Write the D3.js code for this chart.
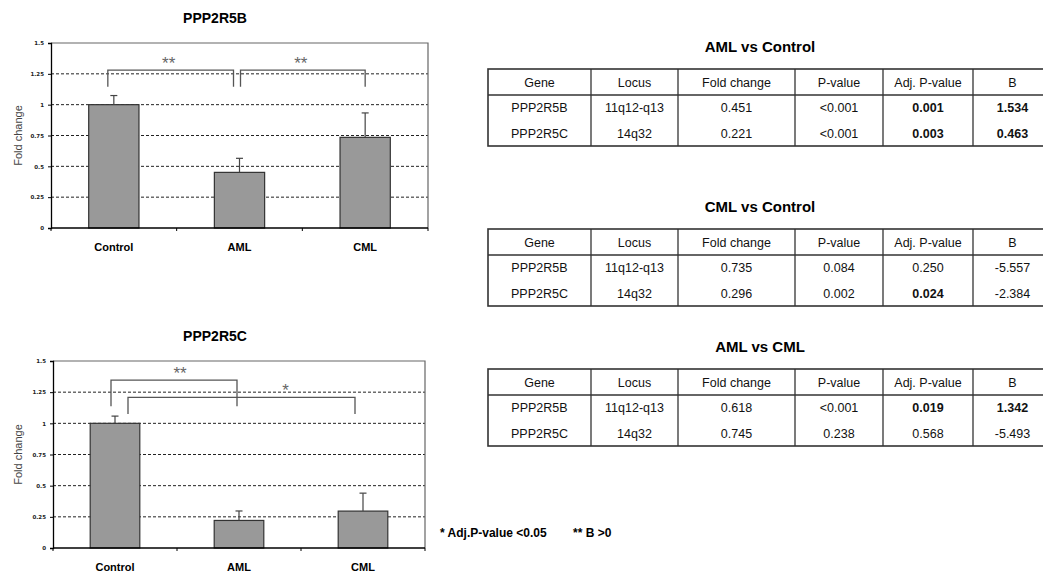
<!DOCTYPE html>
<html>
<head>
<meta charset="utf-8">
<script src="https://cdn.jsdelivr.net/npm/d3@7"></script>
<style>
  body { margin: 0; background: #fff; }
  svg { display: block; font-family: "Liberation Sans", Arial, sans-serif; }
</style>
</head>
<body>
<svg id="fig" width="1043" height="574"></svg>
<script>
// ---- data ----
var categories = ['Control', 'AML', 'CML'];
var yTicks = [0, 0.25, 0.5, 0.75, 1, 1.25, 1.5];

var ppp2r5bMeans = [1.0, 0.451, 0.735];
var ppp2r5bErrors = [0.074, 0.114, 0.198];
var ppp2r5bBrackets = [
  {from: 'Control', to: 'AML', top: 1.28, leg: 1.145, label: '**', dx0: -6, dx1: -6, labelY: 1.365, labelDx: -2},
  {from: 'AML', to: 'CML', top: 1.28, leg: 1.145, label: '**', dx0: 1, dx1: 0, labelY: 1.365, labelDx: -2}
];

var ppp2r5cMeans = [1.0, 0.221, 0.296];
var ppp2r5cErrors = [0.058, 0.076, 0.144];
var ppp2r5cBrackets = [
  {from: 'Control', to: 'AML', top: 1.347, leg: 1.138, label: '**', dx0: -4, dx1: -2, labelY: 1.426, labelDx: 6},
  {from: 'Control', to: 'CML', top: 1.208, leg: 1.074, label: '*', dx0: 13, dx1: -8, labelY: 1.293, labelDx: 44}
];

var tableColumns = ['Gene', 'Locus', 'Fold change', 'P-value', 'Adj. P-value', 'B'];
var genes = ['PPP2R5B', 'PPP2R5C'];
var loci = ['11q12-q13', '14q32'];

var amlControlFold = ['0.451', '0.221'];
var amlControlP = ['<0.001', '<0.001'];
var amlControlAdjP = ['0.001', '0.003'];
var amlControlB = ['1.534', '0.463'];

var cmlControlFold = ['0.735', '0.296'];
var cmlControlP = ['0.084', '0.002'];
var cmlControlAdjP = ['0.250', '0.024'];
var cmlControlB = ['-5.557', '-2.384'];

var amlCmlFold = ['0.618', '0.745'];
var amlCmlP = ['<0.001', '0.238'];
var amlCmlAdjP = ['0.019', '0.568'];
var amlCmlB = ['1.342', '-5.493'];

var svg = d3.select('#fig');

// ---- bar chart with error bars and significance brackets ----
function barChart(opts) {
  var g = svg.append('g');
  var x = d3.scaleBand().domain(categories)
    .range([opts.left, opts.right]).paddingInner(0.6).paddingOuter(0.3);
  var y = d3.scaleLinear().domain([0, 1.5]).range([opts.bottom, opts.top]);
  var data = categories.map(function(c, i) {
    return {cat: c, mean: opts.means[i], err: opts.errors[i]};
  });

  g.append('text')
    .attr('x', 215).attr('y', opts.top - 20)
    .attr('text-anchor', 'middle')
    .attr('font-size', 14).attr('font-weight', 'bold')
    .text(opts.title);

  // dashed grid
  g.selectAll('line.grid')
    .data(yTicks.filter(function(t) { return t > 0 && t < 1.5; }))
    .enter().append('line')
    .attr('x1', opts.left).attr('x2', opts.right)
    .attr('y1', y).attr('y2', y)
    .attr('stroke', '#222').attr('stroke-width', 1)
    .attr('stroke-dasharray', '3,2');

  // frame top / right
  g.append('path')
    .attr('d', 'M' + opts.left + ',' + opts.top + 'H' + opts.right + 'V' + opts.bottom)
    .attr('fill', 'none').attr('stroke', '#666').attr('stroke-width', 1.2);

  // bars
  g.selectAll('rect.bar').data(data).enter().append('rect')
    .attr('x', function(d) { return x(d.cat); })
    .attr('width', x.bandwidth())
    .attr('y', function(d) { return y(d.mean); })
    .attr('height', function(d) { return y(0) - y(d.mean); })
    .attr('fill', '#999999').attr('stroke', '#333').attr('stroke-width', 1.2);

  // error bars (upper only)
  var eb = g.selectAll('g.err').data(data).enter().append('g');
  eb.append('line')
    .attr('x1', function(d) { return x(d.cat) + x.bandwidth() / 2; })
    .attr('x2', function(d) { return x(d.cat) + x.bandwidth() / 2; })
    .attr('y1', function(d) { return y(d.mean); })
    .attr('y2', function(d) { return y(d.mean + d.err); })
    .attr('stroke', '#444').attr('stroke-width', 1.2);
  eb.append('line')
    .attr('x1', function(d) { return x(d.cat) + x.bandwidth() / 2 - 3.5; })
    .attr('x2', function(d) { return x(d.cat) + x.bandwidth() / 2 + 3.5; })
    .attr('y1', function(d) { return y(d.mean + d.err); })
    .attr('y2', function(d) { return y(d.mean + d.err); })
    .attr('stroke', '#444').attr('stroke-width', 1.2);

  // y axis
  var yAxis = d3.axisLeft(y).tickValues(yTicks).tickSize(3).tickPadding(4)
    .tickFormat(function(d) { return String(d); });
  var ya = g.append('g').attr('transform', 'translate(' + opts.left + ',0)').call(yAxis);
  ya.select('.domain').attr('stroke', '#000').attr('stroke-width', 1.3);
  ya.selectAll('.tick text').attr('font-size', 5.5).attr('font-weight', 'bold')
    .attr('font-family', '"DejaVu Sans", sans-serif').attr('fill', '#222');

  // x axis: ticks at category boundaries
  var xa = g.append('g').attr('transform', 'translate(0,' + opts.bottom + ')');
  xa.append('line').attr('x1', opts.left).attr('x2', opts.right)
    .attr('stroke', '#000').attr('stroke-width', 1.3);
  var step = x.step();
  xa.selectAll('line.tk').data(categories.concat(['end'])).enter().append('line')
    .attr('x1', function(d, i) { return opts.left + i * step; })
    .attr('x2', function(d, i) { return opts.left + i * step; })
    .attr('y1', 0).attr('y2', 3).attr('stroke', '#000');
  xa.selectAll('text').data(categories).enter().append('text')
    .attr('x', function(d) { return x(d) + x.bandwidth() / 2; })
    .attr('y', 23)
    .attr('text-anchor', 'middle')
    .attr('font-size', 11).attr('font-weight', 'bold')
    .text(function(d) { return d; });

  // y label
  g.append('text')
    .attr('transform', 'translate(22,' + ((opts.top + opts.bottom) / 2) + ') rotate(-90)')
    .attr('text-anchor', 'middle')
    .attr('font-size', 11).attr('fill', '#444')
    .text('Fold change');

  // significance brackets
  opts.brackets.forEach(function(b) {
    var x0 = x(b.from) + x.bandwidth() / 2 + b.dx0;
    var x1 = x(b.to) + x.bandwidth() / 2 + b.dx1;
    g.append('path')
      .attr('d', 'M' + x0 + ',' + y(b.leg) + 'V' + y(b.top) + 'H' + x1 + 'V' + y(b.leg))
      .attr('fill', 'none').attr('stroke', '#555').attr('stroke-width', 1.3);
    g.append('text')
      .attr('x', (x0 + x1) / 2 + b.labelDx).attr('y', y(b.labelY) + 9)
      .attr('text-anchor', 'middle')
      .attr('font-size', 17).attr('fill', '#666')
      .text(b.label);
  });
}

barChart({title: 'PPP2R5B', left: 51, right: 428, top: 43, bottom: 228,
  means: ppp2r5bMeans, errors: ppp2r5bErrors, brackets: ppp2r5bBrackets});
barChart({title: 'PPP2R5C', left: 53, right: 425, top: 361, bottom: 548,
  means: ppp2r5cMeans, errors: ppp2r5cErrors, brackets: ppp2r5cBrackets});

// ---- tables ----
var colEdges = [488, 591, 678, 795, 883, 973, 1052];

function table(opts) {
  var g = svg.append('g');
  g.append('text')
    .attr('x', 760).attr('y', opts.top - 17)
    .attr('text-anchor', 'middle')
    .attr('font-size', 15).attr('font-weight', 'bold')
    .text(opts.title);

  var headerH = 26, rowH = 25.5;
  var h = headerH + rowH * genes.length;
  var rows = genes.map(function(gname, i) {
    return [
      {v: gname}, {v: loci[i]}, {v: opts.fold[i]}, {v: opts.p[i]},
      {v: opts.adjP[i], bold: parseFloat(opts.adjP[i]) < 0.05},
      {v: opts.b[i], bold: parseFloat(opts.b[i]) > 0}
    ];
  });

  g.append('rect')
    .attr('x', colEdges[0]).attr('y', opts.top)
    .attr('width', colEdges[colEdges.length - 1] - colEdges[0]).attr('height', h)
    .attr('fill', 'none').attr('stroke', '#333').attr('stroke-width', 1.6);
  g.selectAll('line.col').data(colEdges.slice(1, -1)).enter().append('line')
    .attr('x1', function(d) { return d; }).attr('x2', function(d) { return d; })
    .attr('y1', opts.top).attr('y2', opts.top + h)
    .attr('stroke', '#333').attr('stroke-width', 1.3);
  g.append('line')
    .attr('x1', colEdges[0]).attr('x2', colEdges[colEdges.length - 1])
    .attr('y1', opts.top + headerH).attr('y2', opts.top + headerH)
    .attr('stroke', '#333').attr('stroke-width', 1.3);

  function cx(i) { return (colEdges[i] + colEdges[i + 1]) / 2; }

  g.selectAll('text.head').data(tableColumns).enter().append('text')
    .attr('x', function(d, i) { return cx(i); })
    .attr('y', opts.top + headerH / 2 + 4.5)
    .attr('text-anchor', 'middle').attr('font-size', 12.5).attr('fill', '#111')
    .text(function(d) { return d; });

  rows.forEach(function(r, ri) {
    g.selectAll(null).data(r).enter().append('text')
      .attr('x', function(d, i) { return cx(i); })
      .attr('y', opts.top + headerH + rowH * ri + rowH / 2 + 4.5)
      .attr('text-anchor', 'middle').attr('font-size', 12.5).attr('fill', '#111')
      .attr('font-weight', function(d) { return d.bold ? 'bold' : 'normal'; })
      .text(function(d) { return d.v; });
  });
}

table({title: 'AML vs Control', top: 69, fold: amlControlFold, p: amlControlP,
  adjP: amlControlAdjP, b: amlControlB});
table({title: 'CML vs Control', top: 229, fold: cmlControlFold, p: cmlControlP,
  adjP: cmlControlAdjP, b: cmlControlB});
table({title: 'AML vs CML', top: 369, fold: amlCmlFold, p: amlCmlP,
  adjP: amlCmlAdjP, b: amlCmlB});

// ---- footnote ----
svg.append('text').attr('x', 440).attr('y', 537)
  .attr('font-size', 12).attr('font-weight', 'bold')
  .text('* Adj.P-value <0.05');
svg.append('text').attr('x', 573).attr('y', 537)
  .attr('font-size', 12).attr('font-weight', 'bold')
  .text('** B >0');
</script>
</body>
</html>
